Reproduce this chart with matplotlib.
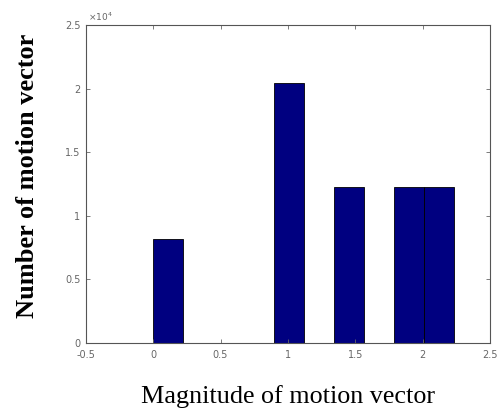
import numpy as np
import matplotlib.pyplot as plt

# histogram of motion vector magnitudes (10 bins, 0 .. sqrt(5))
bin_centers = [0.1118, 0.3354, 0.5590, 0.7826, 1.0062, 1.2298, 1.4534, 1.6770, 1.9006, 2.1242]
counts = [8200, 0, 0, 0, 20400, 0, 12250, 0, 12250, 12250]
bin_width = 0.2236

xticks = [-0.5, 0, 0.5, 1, 1.5, 2, 2.5]
xticklabels = ['-0.5', '0', '0.5', '1', '1.5', '2', '2.5']
yticks = [0, 5000, 10000, 15000, 20000, 25000]
yticklabels = ['0', '0.5', '1', '1.5', '2', '2.5']

fig = plt.figure(figsize=(4.99, 4.12), dpi=100)
ax = fig.add_axes([0.172, 0.1675, 0.81, 0.772])

ax.bar(bin_centers, counts, width=bin_width, color='#000080', edgecolor='black', linewidth=0.6)

ax.set_xlim(-0.5, 2.5)
ax.set_ylim(0, 25000)
ax.set_xticks(xticks)
ax.set_xticklabels(xticklabels)
ax.set_yticks(yticks)
ax.set_yticklabels(yticklabels)
ax.tick_params(direction='in', length=3, width=0.6, labelsize=7, colors='#666666',
               top=True, right=True)
ax.tick_params(axis='x', pad=5)
ax.tick_params(axis='y', pad=4)
for s in ax.spines.values():
    s.set_color('#555555')
    s.set_linewidth(0.8)

ax.text(0.005, 1.005, r'$\times10^4$', transform=ax.transAxes, fontsize=6.5, color='#666666',
        va='bottom', ha='left')

ax.set_xlabel('Magnitude of motion vector', family='Liberation Serif', fontsize=18.8, labelpad=18)
ax.set_ylabel('Number of motion vector', family='Liberation Serif', fontsize=19,
              fontweight='bold')
ax.yaxis.set_label_coords(-0.117, 0.525)

fig.savefig('out.png', dpi=100)
